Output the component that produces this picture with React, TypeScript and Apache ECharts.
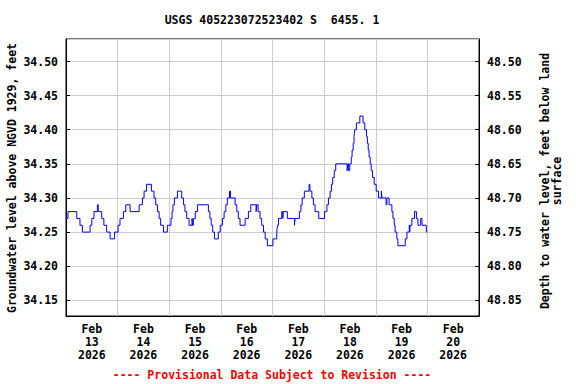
import React, { useEffect, useRef } from "react";
import * as echarts from "echarts";

// Hours since Feb 13 2026 00:00 at which the level changes (step changes)
const hours = [
  0, 0.9, 5.0, 6.5, 7.6, 11.2, 12.0, 13.0, 14.6, 15.0, 16.6, 17.6, 18.9, 20.5, 22.6,
  24.2, 25.1, 26.7, 27.8, 29.8, 34.0, 35.5, 36.3, 37.4, 39.7, 40.9, 41.7, 42.5, 43.3, 44.0,
  45.3, 47.1, 48.8, 49.3, 49.7, 50.4, 51.8, 53.8, 54.6, 55.3, 56.1, 57.2, 58.6, 58.8, 59.2,
  60.1, 61.1, 66.2, 66.9, 67.5, 68.2, 69.0, 70.8, 71.7, 72.7, 73.5, 74.3, 75.0, 76.0, 76.5,
  78.6, 79.4, 80.1, 80.9, 83.3, 84.8, 85.9, 88.4, 88.6, 89.3, 90.2, 91.0, 91.8, 92.6, 93.6,
  96.2, 98.0, 98.3, 98.8, 100.3, 100.8, 101.0, 102.9, 106.2, 106.5, 108.5, 109.2, 109.8, 110.8, 113.0,
  113.4, 114.3, 115.0, 115.8, 117.5, 120.2, 121.3, 122.0, 122.8, 123.4, 124.0, 124.7, 125.4, 130.7, 131.0,
  131.4, 131.9, 132.6, 133.0, 133.5, 133.9, 134.2, 135.0, 136.6, 138.1, 138.9, 139.7, 140.1, 140.5, 140.9,
  141.4, 141.9, 142.5, 143.3, 144.2, 145.3, 146.6, 146.9, 148.8, 149.2, 150.2, 151.5, 152.0, 152.6, 153.0,
  153.8, 154.3, 157.7, 158.5, 159.6, 159.8, 160.0, 160.8, 162.0, 162.9, 163.6, 164.9, 165.5, 167.5, 167.9,
];
// Groundwater level above NGVD 1929, feet
const levels = [
  34.27, 34.28, 34.27, 34.26, 34.25, 34.26, 34.27, 34.28, 34.29, 34.28, 34.27, 34.26, 34.25, 34.24, 34.25,
  34.26, 34.27, 34.28, 34.29, 34.28, 34.29, 34.30, 34.31, 34.32, 34.31, 34.30, 34.29, 34.28, 34.27, 34.26,
  34.25, 34.26, 34.27, 34.28, 34.29, 34.30, 34.31, 34.30, 34.29, 34.28, 34.27, 34.26, 34.27, 34.26, 34.27,
  34.28, 34.29, 34.28, 34.27, 34.26, 34.25, 34.24, 34.25, 34.26, 34.27, 34.28, 34.29, 34.30, 34.31, 34.30,
  34.29, 34.28, 34.27, 34.26, 34.27, 34.28, 34.29, 34.28, 34.29, 34.28, 34.27, 34.26, 34.25, 34.24, 34.23,
  34.24, 34.25, 34.26, 34.27, 34.28, 34.27, 34.28, 34.27, 34.26, 34.27, 34.28, 34.29, 34.30, 34.31, 34.32,
  34.31, 34.30, 34.29, 34.28, 34.27, 34.28, 34.29, 34.30, 34.31, 34.32, 34.33, 34.34, 34.35, 34.34, 34.35,
  34.34, 34.35, 34.36, 34.37, 34.38, 34.39, 34.40, 34.41, 34.42, 34.41, 34.40, 34.39, 34.38, 34.37, 34.36,
  34.35, 34.34, 34.33, 34.32, 34.31, 34.30, 34.31, 34.30, 34.29, 34.30, 34.29, 34.28, 34.27, 34.26, 34.25,
  34.24, 34.23, 34.24, 34.25, 34.26, 34.25, 34.26, 34.27, 34.28, 34.27, 34.26, 34.27, 34.26, 34.25, 34.25,
];
const dayLabels = [
  "Feb\n13\n2026", "Feb\n14\n2026", "Feb\n15\n2026", "Feb\n16\n2026",
  "Feb\n17\n2026", "Feb\n18\n2026", "Feb\n19\n2026", "Feb\n20\n2026",
];
const LAND_SURFACE = 83.0; // depth = 83.00 - elevation
const ELEV_MIN = 34.127;
const ELEV_MAX = 34.533;

const FONT = "'DejaVu Sans Mono', 'Liberation Mono', monospace";

export default function App() {
  const ref = useRef<HTMLDivElement>(null);
  useEffect(() => {
    if (!ref.current) return;
    const chart = echarts.init(ref.current, null, { renderer: "svg" });
    const data = hours.map((h, i) => [h, levels[i]]);
    const labelStyle = { fontFamily: FONT, fontWeight: "bold" as const, fontSize: 11.5, color: "#000" };
    chart.setOption({
      animation: false,
      backgroundColor: "#fff",
      grid: { left: 66, right: 97, top: 39, bottom: 68, show: true, borderColor: "#000", borderWidth: 1 },
      xAxis: [
        {
          type: "value", min: 0, max: 192, interval: 24,
          axisLine: { show: true, lineStyle: { color: "#000" } },
          axisTick: { show: false }, axisLabel: { show: false },
          splitLine: { show: true, lineStyle: { color: "#cccccc", width: 1 } },
        },
        {
          type: "category", data: dayLabels, boundaryGap: true, position: "bottom",
          axisLine: { show: false }, axisTick: { show: false }, splitLine: { show: false },
          axisLabel: { ...labelStyle, margin: 7, lineHeight: 12.7, interval: 0 },
        },
      ],
      yAxis: [
        {
          type: "value", min: ELEV_MIN, max: ELEV_MAX, splitNumber: 8, minInterval: 0.05, maxInterval: 0.05,
          axisLine: { show: true, lineStyle: { color: "#000" } },
          axisTick: { show: true, inside: true, length: 4, lineStyle: { color: "#000" } },
          axisLabel: { ...labelStyle, margin: 8, showMinLabel: false, showMaxLabel: false,
            formatter: (v: number) => v.toFixed(2) },
          splitLine: { show: true, lineStyle: { color: "#cccccc", width: 1 } },
        },
        {
          type: "value", inverse: true, position: "right",
          min: LAND_SURFACE - ELEV_MAX, max: LAND_SURFACE - ELEV_MIN,
          splitNumber: 8, minInterval: 0.05, maxInterval: 0.05,
          axisLine: { show: true, lineStyle: { color: "#000" } },
          axisTick: { show: true, inside: true, length: 4, lineStyle: { color: "#000" } },
          axisLabel: { ...labelStyle, margin: 8, showMinLabel: false, showMaxLabel: false,
            formatter: (v: number) => v.toFixed(2) },
          splitLine: { show: false },
        },
      ],
      series: [
        {
          type: "line", step: "end", data, xAxisIndex: 0, yAxisIndex: 0,
          showSymbol: false, symbol: "none",
          lineStyle: { color: "#0000ff", width: 1 }, itemStyle: { color: "#0000ff" },
        },
      ],
      graphic: [
        {
          type: "text", x: 272, y: 20,
          style: { text: "USGS 405223072523402 S  6455. 1", font: `bold 11.5px ${FONT}`, fill: "#000",
            textAlign: "center", textVerticalAlign: "middle" },
        },
        {
          type: "text", x: 12, y: 178, rotation: Math.PI / 2,
          style: { text: "Groundwater level above NGVD 1929, feet", font: `bold 11.5px ${FONT}`, fill: "#000",
            textAlign: "center", textVerticalAlign: "middle" },
        },
        {
          type: "text", x: 551, y: 181, rotation: Math.PI / 2,
          style: { text: "Depth to water level, feet below land\nsurface", font: `bold 11.5px ${FONT}`, fill: "#000",
            textAlign: "center", textVerticalAlign: "middle", lineHeight: 12 },
        },
        {
          type: "text", x: 272, y: 375,
          style: { text: "---- Provisional Data Subject to Revision ----", font: `bold 11.5px ${FONT}`, fill: "#ff0000",
            textAlign: "center", textVerticalAlign: "middle" },
        },
      ],
    });
    return () => chart.dispose();
  }, []);
  return <div ref={ref} style={{ position: "fixed", left: 0, top: 0, width: 576, height: 384 }} />;
}
